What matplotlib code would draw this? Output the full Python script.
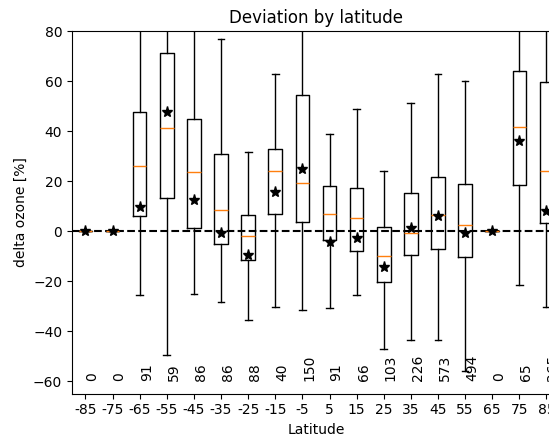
import numpy as np
import matplotlib
matplotlib.use("Agg")
import matplotlib.pyplot as plt

# latitude bands and box statistics
lats = [-85, -75, -65, -55, -45, -35, -25, -15, -5, 5, 15, 25, 35, 45, 55, 65, 75, 85]
counts = [0, 0, 91, 59, 86, 86, 88, 40, 150, 91, 66, 103, 226, 573, 494, 0, 65, 265]
q1 = [0, 0, 6.2, 13.4, 1.4, -5.0, -11.7, 7.0, 3.8, -3.4, -7.8, -20.5, -9.4, -7.0, -10.5, 0, 18.6, 3.4]
q3 = [0, 0, 47.7, 71.2, 44.9, 30.9, 6.6, 32.9, 54.5, 18.2, 17.4, 1.8, 15.4, 21.8, 19.0, 0, 64.0, 59.7]
med = [0, 0, 26.1, 41.3, 23.8, 8.6, -1.8, 24.2, 19.4, 7.0, 5.4, -10.1, -0.6, 6.6, 2.6, 0, 41.7, 24.2]
mean = [0, 0, 9.8, 47.7, 12.6, -0.6, -9.4, 15.8, 25.0, -4.2, -2.6, -14.5, 1.4, 6.2, -0.6, 0, 36.1, 8.2]
wlo = [0, 0, -25.7, -49.6, -25.3, -28.5, -35.7, -30.5, -31.7, -30.9, -25.7, -47.2, -43.7, -43.7, -56.0, 0, -21.7, -30.5]
whi = [0, 0, 110, 130, 115, 76.8, 31.7, 62.8, 105, 38.9, 48.9, 24.2, 51.3, 62.8, 60.1, 0, 110, 105]

stats = []
for i in range(len(lats)):
    stats.append(dict(q1=q1[i], q3=q3[i], med=med[i], mean=mean[i],
                      whislo=wlo[i], whishi=whi[i], fliers=[]))

fig = plt.figure(figsize=(5.49, 4.37), dpi=100)
ax = fig.add_axes([0.131, 0.099, 0.889, 0.830])

ax.bxp(stats, positions=lats, widths=5, showmeans=True, showfliers=False,
       meanprops=dict(marker='*', markerfacecolor='k', markeredgecolor='k', markersize=8))
ax.axhline(0, color='k', ls='--')

for lat, n in zip(lats, counts):
    ax.text(lat, -60, str(n), rotation=90, ha='left', va='bottom')

ax.set_xlim(-90, 90)
ax.set_ylim(-65, 80)
ax.set_xticks(lats)
ax.set_xticklabels([str(l) for l in lats])
ax.set_xlabel('Latitude')
ax.set_ylabel('delta ozone [%]')
ax.set_title('Deviation by latitude')

fig.savefig('out.png', dpi=100)
